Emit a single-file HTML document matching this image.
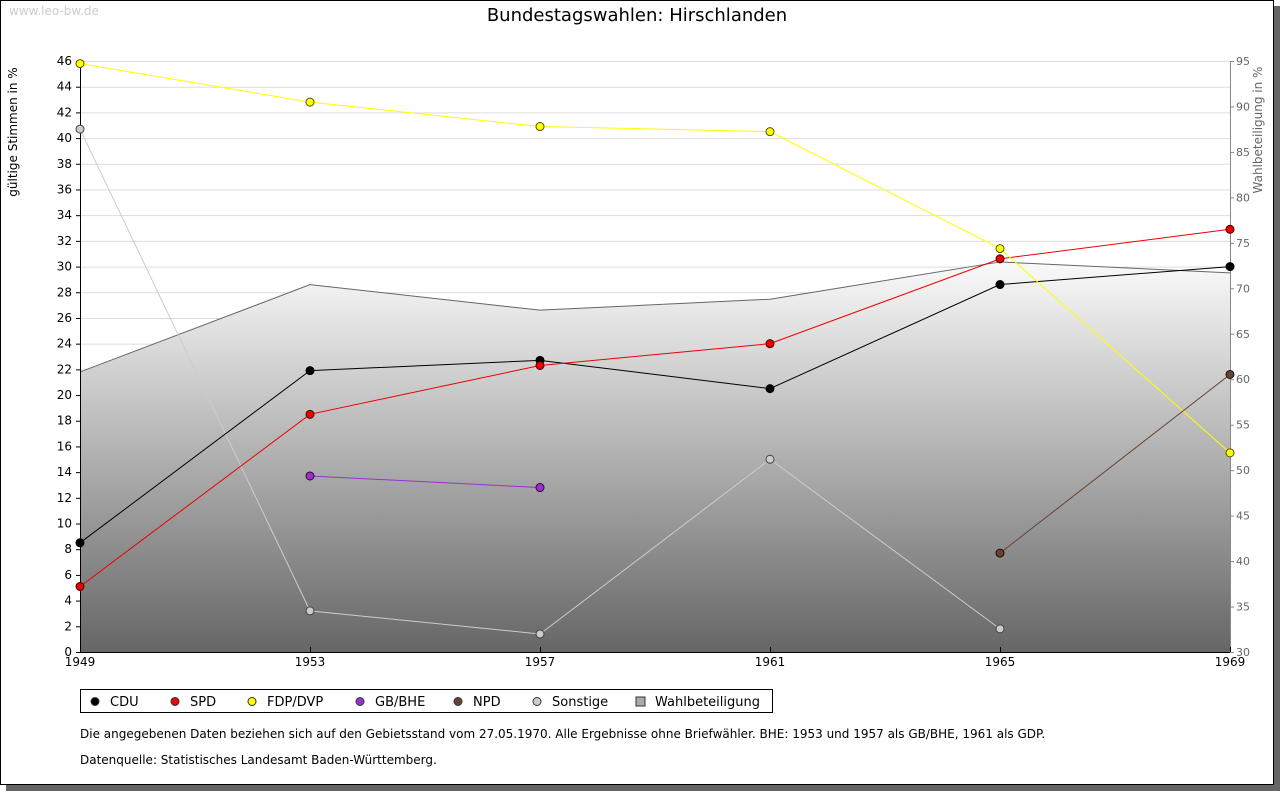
<!DOCTYPE html>
<html><head><meta charset="utf-8"><style>
body{margin:0;background:#fff;width:1280px;height:791px;overflow:hidden;font-family:"Liberation Sans","DejaVu Sans",sans-serif}
</style></head><body>
<svg id="c" width="1280" height="791" xmlns="http://www.w3.org/2000/svg" font-family="DejaVu Sans, Liberation Sans, sans-serif">
<defs><linearGradient id="g" x1="0" y1="0" x2="0" y2="1"><stop offset="0" stop-color="#fafafa"/><stop offset="1" stop-color="#666"/></linearGradient></defs>
<rect x="6" y="6" width="1274" height="785" fill="#666"/>
<rect x="0.5" y="0.5" width="1273" height="784" fill="#fff" stroke="#000"/>
<text x="9" y="15" font-size="12" fill="#ccc">www.leo-bw.de</text>
<text x="637" y="21" font-size="18" text-anchor="middle">Bundestagswahlen: Hirschlanden</text>
<text transform="translate(17,132) rotate(-90)" font-size="12" text-anchor="middle">gültige Stimmen in %</text>
<text transform="translate(1262,130) rotate(-90)" font-size="12" fill="#666" text-anchor="middle">Wahlbeteiligung in %</text>
<g id="grid"></g><g id="area"></g><g id="axes"></g><g id="series"></g>
<rect x="80.5" y="689.5" width="692" height="23" fill="#fff" stroke="#000"/>
<g id="legend"></g>
<text x="80" y="738" font-size="12">Die angegebenen Daten beziehen sich auf den Gebietsstand vom 27.05.1970. Alle Ergebnisse ohne Briefwähler. BHE: 1953 und 1957 als GB/BHE, 1961 als GDP.</text>
<text x="80" y="764" font-size="12">Datenquelle: Statistisches Landesamt Baden-Württemberg.</text>
</svg>
<script>
const years=[1949,1953,1957,1961,1965,1969];
const cdu=[8.5,21.9,22.7,20.5,28.6,30.0];
const spd=[5.1,18.5,22.3,24.0,30.6,32.9];
const fdp=[45.8,42.8,40.9,40.5,31.4,15.5];
const bhe=[null,13.7,12.8,null,null,null];
const npd=[null,null,null,null,7.7,21.6];
const sonst=[40.7,3.2,1.4,15.0,1.8,null];
const turnout=[60.8,70.4,67.6,68.8,72.9,71.7];
const leftTicks=[0,2,4,6,8,10,12,14,16,18,20,22,24,26,28,30,32,34,36,38,40,42,44,46];
const rightTicks=[30,35,40,45,50,55,60,65,70,75,80,85,90,95];
const X0=80,X1=1230,Y0=652,Y1=61;
const xs=y=>X0+(y-1949)/(1969-1949)*(X1-X0);
const ys=v=>Y0-v/46*(Y0-Y1);
const yr=v=>Y0-(v-30)/65*(Y0-Y1);
const NS='http://www.w3.org/2000/svg';
function mk(p,t,a){const e=document.createElementNS(NS,t);for(const k in a)e.setAttribute(k,a[k]);document.getElementById(p).appendChild(e);return e;}
leftTicks.forEach(v=>{const l=mk('grid','line',{x1:X0,x2:X1,y1:ys(v)+.5,y2:ys(v)+.5,stroke:'#ddd'});

const t=mk('axes','text',{x:72,y:ys(v)+4,'font-size':12,'text-anchor':'end'});t.textContent=v;

mk('axes','line',{x1:X0-4,x2:X0,y1:ys(v)+.5,y2:ys(v)+.5,stroke:'#000'});});
rightTicks.forEach(v=>{const t=mk('axes','text',{x:1236,y:yr(v)+4,'font-size':11,fill:'#666'});t.textContent=v;

mk('axes','line',{x1:X1,x2:X1+4,y1:yr(v)+.5,y2:yr(v)+.5,stroke:'#888'});});
let d='M'+xs(years[0])+','+Y0;years.forEach((y,i)=>d+=' L'+xs(y)+','+yr(turnout[i]));d+=' L'+xs(1969)+','+Y0+'Z';
const a=mk('area','path',{d:d,fill:'url(#g)'});
const tl=mk('area','polyline',{points:years.map((y,i)=>xs(y)+','+yr(turnout[i])).join(' '),fill:'none',stroke:'#666'});

mk('axes','line',{x1:X0+.5,x2:X0+.5,y1:Y1,y2:Y0,stroke:'#000'});
mk('axes','line',{x1:X0,x2:X1,y1:Y0+.5,y2:Y0+.5,stroke:'#000'});
mk('axes','line',{x1:X1+.5,x2:X1+.5,y1:Y1,y2:Y0,stroke:'#888'});
years.forEach(y=>{const t=mk('axes','text',{x:xs(y),y:666,'font-size':12,'text-anchor':'middle'});t.textContent=y;

mk('axes','line',{x1:xs(y)+.5,x2:xs(y)+.5,y1:Y0-5,y2:Y0,stroke:'#000'});});
function series(vals,line,fill,stroke,name){let seg=[];const segs=[];
vals.forEach((v,i)=>{if(v==null){if(seg.length)segs.push(seg);seg=[];}else seg.push([xs(years[i]),ys(v)]);});if(seg.length)segs.push(seg);
segs.forEach(s=>{const p=mk('series','polyline',{points:s.map(q=>q.join(',')).join(' '),fill:'none',stroke:line});

s.forEach(q=>{const c=mk('series','circle',{cx:q[0],cy:q[1],r:4,fill:fill,stroke:stroke});
});});}
series(sonst,'#ccc','#ccc','#444','sonstige');
series(cdu,'#000','#000','#000','cdu');
series(spd,'#e00','#e00','#400','spd');
series(fdp,'#ff0','#ff0','#550','fdp');
series(bhe,'#93c','#93c','#304','gb-bhe');
series(npd,'#643','#643','#210','npd');
const legs=[['CDU','#000',95],['SPD','#e00',175],['FDP/DVP','#ff0',252],['GB/BHE','#93c',360],['NPD','#643',458],['Sonstige','#ccc',537],['Wahlbeteiligung','#aaa',640]];
legs.forEach(l=>{if(l[0]==='Wahlbeteiligung'){mk('legend','rect',{x:l[2]-4,y:697,width:9,height:9,fill:l[1],stroke:'#333'});}
else{mk('legend','circle',{cx:l[2],cy:701.5,r:4,fill:l[1],stroke:'#333'});}
const t=mk('legend','text',{x:l[2]+15,y:706,'font-size':13});t.textContent=l[0];
});
</script>
</body></html>
